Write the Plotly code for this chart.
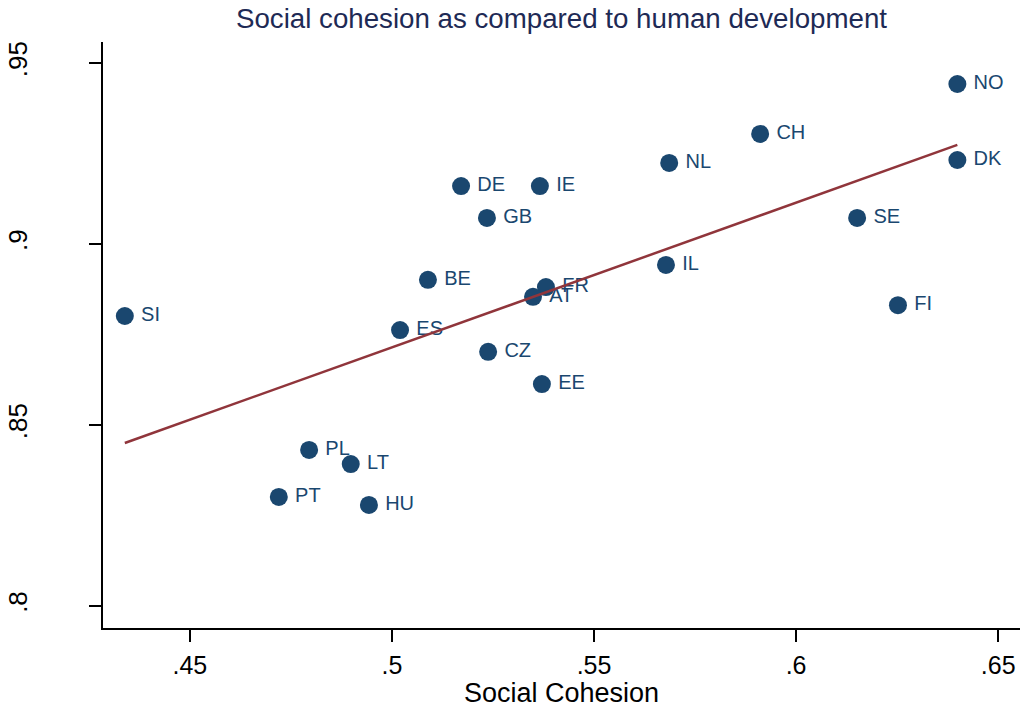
import numpy as np
import plotly.graph_objects as go

# Country codes with social cohesion index (x) and human development index (y)
countries = ["NO", "CH", "NL", "DK", "DE", "IE", "GB", "SE", "IL", "BE", "FR",
             "AT", "SI", "FI", "ES", "CZ", "EE", "PL", "LT", "PT", "HU"]
cohesion = [0.6399, 0.5911, 0.5686, 0.6399, 0.5171, 0.5366, 0.5235, 0.6151,
            0.5678, 0.5089, 0.5381, 0.5349, 0.4339, 0.6252, 0.5020, 0.5238,
            0.5371, 0.4795, 0.4898, 0.4720, 0.4943]
hdi = [0.9442, 0.9304, 0.9224, 0.9232, 0.9160, 0.9160, 0.9072, 0.9072,
       0.8942, 0.8901, 0.8881, 0.8854, 0.8801, 0.8831, 0.8762, 0.8702,
       0.8613, 0.8431, 0.8392, 0.8301, 0.8279]

x_ticks = [0.45, 0.5, 0.55, 0.6, 0.65]
x_ticklabels = [".45", ".5", ".55", ".6", ".65"]
y_ticks = [0.8, 0.85, 0.9, 0.95]
y_ticklabels = [".8", ".85", ".9", ".95"]

NAVY = "#1a476f"
MAROON = "#90353b"
FONT = "Liberation Sans, Arial, sans-serif"

# Linear fit across the observed range
slope, intercept = np.polyfit(cohesion, hdi, 1)
fit_x = np.array([min(cohesion), max(cohesion)])
fit_y = slope * fit_x + intercept

fig = go.Figure()
fig.add_trace(go.Scatter(
    x=cohesion, y=hdi, mode="markers+text", text=countries,
    texttemplate="\u2009%{text}",
    textposition="middle right",
    textfont=dict(family=FONT, size=20, color=NAVY),
    marker=dict(size=18, color=NAVY),
    hoverinfo="text", showlegend=False,
))
fig.add_trace(go.Scatter(
    x=fit_x, y=fit_y, mode="lines",
    line=dict(color=MAROON, width=2.5),
    showlegend=False,
))

fig.update_layout(
    width=1022, height=708,
    margin=dict(l=103, r=2, t=42, b=80),
    paper_bgcolor="white", plot_bgcolor="white",
    font=dict(family=FONT, color="black"),
    title=dict(text="Social cohesion as compared to human development",
               x=0.5494, xanchor="center", y=0.974, yanchor="middle",
               font=dict(family=FONT, size=27.7, color="#1e2a55")),
)
fig.update_xaxes(
    range=[0.4285, 0.6554], tickvals=x_ticks, ticktext=x_ticklabels,
    showgrid=False, zeroline=False, showline=True, linecolor="black",
    linewidth=1.5, ticks="outside", ticklen=12, tickwidth=1.5,
    tickcolor="black", tickfont=dict(size=25, family=FONT),
    ticklabelstandoff=2, automargin=False,
    title=dict(text="Social Cohesion", font=dict(size=27, family=FONT),
               standoff=1),
)
fig.update_yaxes(
    range=[0.7939, 0.9558], tickvals=y_ticks, ticktext=y_ticklabels,
    showgrid=False, zeroline=False, showline=True, linecolor="black",
    linewidth=1.5, ticks="outside", ticklen=12, tickwidth=1.5,
    tickcolor="black", tickfont=dict(size=26, family=FONT),
    tickangle=-90, ticklabelstandoff=52, automargin=False,
)

fig.write_html("out.html")
